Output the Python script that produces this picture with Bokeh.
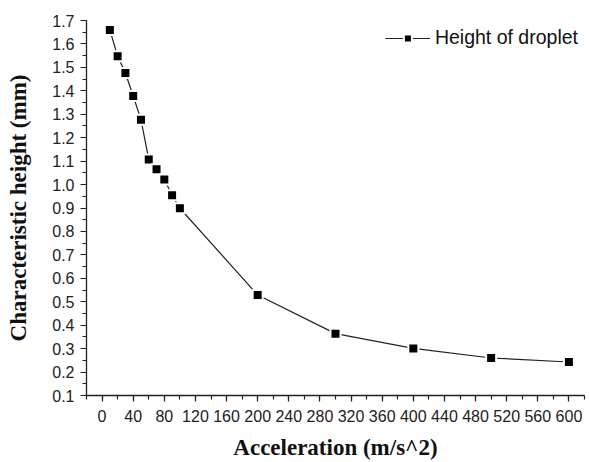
from bokeh.plotting import figure
from bokeh.models import Range1d, FixedTicker, PrintfTickFormatter, ColumnDataSource, Legend, LegendItem
from bokeh.embed import file_html
from bokeh.resources import INLINE

acceleration = [10, 20, 30, 40, 50, 60, 70, 80, 90, 100, 200, 300, 400, 500, 600]
height_mm = [1.66, 1.547, 1.476, 1.378, 1.277, 1.107, 1.065, 1.022, 0.954, 0.899,
             0.529, 0.364, 0.301, 0.26, 0.243]
x_ticks = list(range(0, 601, 40))
x_minor = list(range(-20, 621, 20))
y_ticks = [round(0.1 * i, 1) for i in range(1, 18)]
y_minor = [round(0.05 * i, 2) for i in range(2, 35)]

src = ColumnDataSource(dict(x=acceleration, y=height_mm))

p = figure(width=589, height=462, output_backend="svg", toolbar_location=None,
           x_range=Range1d(-20, 620), y_range=Range1d(0.1, 1.7),
           min_border_left=86, min_border_right=5, min_border_top=20, min_border_bottom=66)

p.xgrid.visible = False
p.ygrid.visible = False
p.outline_line_color = None
p.background_fill_color = "white"
p.border_fill_color = "white"

ln = p.line("x", "y", source=src, line_color="#222222", line_width=1.2)
sq = p.scatter("x", "y", source=src, marker="square", size=10, fill_color="black",
               line_color="white", line_width=2)

for ax in (p.xaxis[0], p.yaxis[0]):
    ax.axis_line_color = "#222222"
    ax.axis_line_width = 1.3
    ax.major_tick_line_color = "#222222"
    ax.minor_tick_line_color = "#222222"
    ax.major_tick_line_width = 1.2
    ax.minor_tick_line_width = 1.2
    ax.major_tick_out = 6
    ax.major_tick_in = 0
    ax.minor_tick_out = 4
    ax.minor_tick_in = 0
    ax.major_label_text_font = "Liberation Sans"
    ax.major_label_text_font_size = "16px"
    ax.major_label_text_color = "#222222"
    ax.axis_label_text_font = "Liberation Serif"
    ax.axis_label_text_font_style = "bold"
    ax.axis_label_text_font_size = "23px"
    ax.axis_label_text_color = "#111111"

p.xaxis[0].ticker = FixedTicker(ticks=x_ticks, minor_ticks=x_minor)
p.yaxis[0].ticker = FixedTicker(ticks=y_ticks, minor_ticks=y_minor)
p.yaxis[0].formatter = PrintfTickFormatter(format="%.1f")
p.xaxis[0].axis_label = "Acceleration (m/s^2)"
p.yaxis[0].axis_label = "Characteristic height (mm)"
p.xaxis[0].major_label_standoff = 8
p.yaxis[0].major_label_standoff = 6
p.xaxis[0].axis_label_standoff = 10
p.yaxis[0].axis_label_standoff = 18

legend = Legend(items=[LegendItem(label="Height of droplet", renderers=[ln, sq])],
                location="top_right", margin=6, padding=7, glyph_width=45, glyph_height=20,
                label_standoff=5, border_line_color=None, background_fill_alpha=0,
                label_text_font="Liberation Sans", label_text_font_size="19.5px",
                label_text_color="#111111")
p.add_layout(legend, "center")

open("out.html", "w").write(file_html(p, INLINE))
